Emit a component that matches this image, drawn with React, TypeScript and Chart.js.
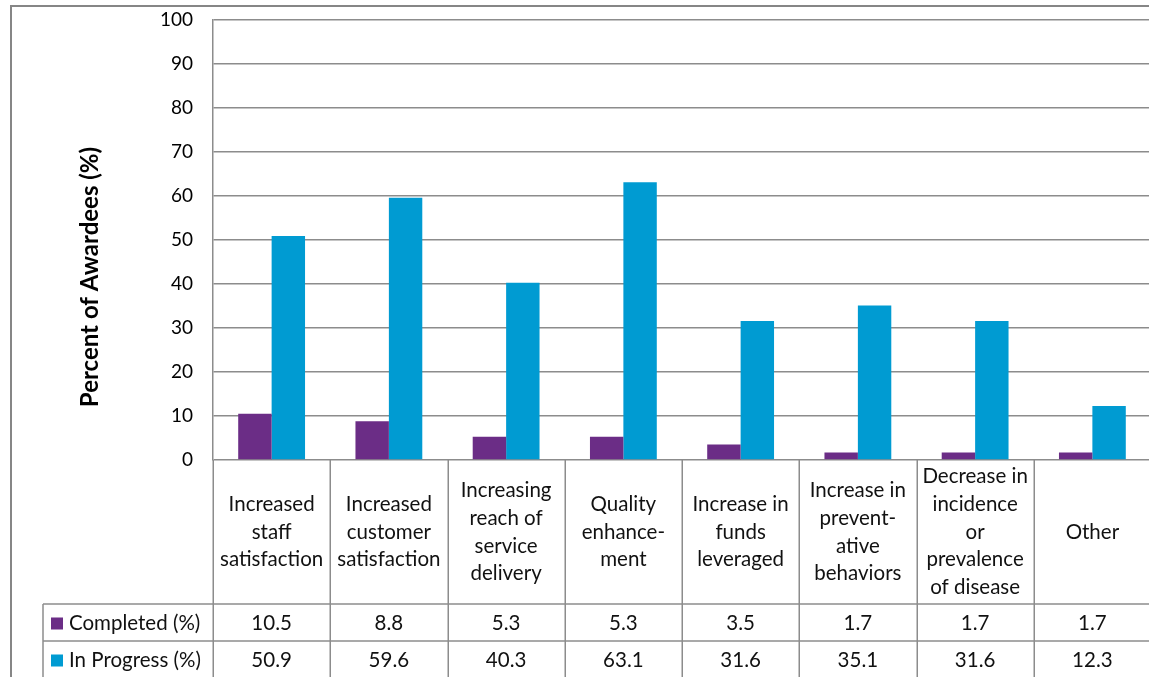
import React, { useEffect, useRef } from "react";
import { Chart, registerables } from "chart.js";

Chart.register(...registerables);

const categoryLines: string[][] = [
  ["Increased", "staff", "satisfaction"],
  ["Increased", "customer", "satisfaction"],
  ["Increasing", "reach of", "service", "delivery"],
  ["Quality", "enhance-", "ment"],
  ["Increase in", "funds", "leveraged"],
  ["Increase in", "prevent-", "ative", "behaviors"],
  ["Decrease in", "incidence", "or", "prevalence", "of disease"],
  ["Other"],
];

const completed: number[] = [10.5, 8.8, 5.3, 5.3, 3.5, 1.7, 1.7, 1.7];
const inProgress: number[] = [50.9, 59.6, 40.3, 63.1, 31.6, 35.1, 31.6, 12.3];

const seriesNames: string[] = ["Completed (%)", "In Progress (%)"];
const seriesColors: string[] = ["#6B2D86", "#009BD2"];

const axisTitle = "Percent of Awardees (%)";
const yMin = 0;
const yMax = 100;
const yStep = 10;

const FONT = "Lato, 'Open Sans', sans-serif";
const LINE = "#8c8c8c";

// Data table drawn under the plot: category header row plus one row per series.
const dataTablePlugin = {
  id: "dataTable",
  afterDraw(chart: any) {
    const { ctx, chartArea, scales } = chart;
    const x = scales.x;
    const left = chartArea.left;
    const right = chartArea.right;
    const bottom = chartArea.bottom;
    const n = categoryLines.length;
    const cellW = (right - left) / n;
    const headerH = 144;
    const rowH = 37;
    const keyColLeft = left - 170;
    const canvasH = chart.height;

    ctx.save();
    ctx.strokeStyle = LINE;
    ctx.lineWidth = 1.5;

    // vertical separators
    for (let i = 0; i <= n; i++) {
      const px = Math.round(left + i * cellW) + 0.25;
      ctx.beginPath();
      ctx.moveTo(px, bottom);
      ctx.lineTo(px, canvasH);
      ctx.stroke();
    }
    ctx.beginPath();
    ctx.moveTo(keyColLeft, bottom + headerH);
    ctx.lineTo(keyColLeft, canvasH);
    ctx.stroke();

    // horizontal separators
    for (let r = 0; r <= seriesNames.length; r++) {
      const py = bottom + headerH + r * rowH;
      ctx.beginPath();
      ctx.moveTo(keyColLeft, py);
      ctx.lineTo(right + 20, py);
      ctx.stroke();
    }

    // category header text
    ctx.fillStyle = "#111";
    ctx.font = `20.5px ${FONT}`;
    ctx.textAlign = "center";
    ctx.textBaseline = "middle";
    const lh = 27.8;
    categoryLines.forEach((lines, i) => {
      const cx = x.getPixelForValue(i);
      const cy = bottom + headerH / 2;
      const start = cy - ((lines.length - 1) * lh) / 2;
      lines.forEach((t, j) => ctx.fillText(t, cx, start + j * lh));
    });

    // series rows
    const rows = [completed, inProgress];
    rows.forEach((vals, r) => {
      const cy = bottom + headerH + r * rowH + rowH / 2 + 1;
      ctx.fillStyle = seriesColors[r];
      ctx.fillRect(keyColLeft + 8, cy - 6, 12, 12);
      ctx.fillStyle = "#111";
      ctx.textAlign = "left";
      ctx.fillText(seriesNames[r], keyColLeft + 26, cy);
      ctx.textAlign = "center";
      vals.forEach((v, i) => {
        ctx.fillText(v.toFixed(1), x.getPixelForValue(i), cy);
      });
    });

    // axis title
    ctx.save();
    ctx.translate(90, chartArea.top + 257);
    ctx.rotate(-Math.PI / 2);
    ctx.font = `bold 24px ${FONT}`;
    ctx.fillStyle = "#000";
    ctx.textAlign = "center";
    ctx.fillText(axisTitle, 0, 0);
    ctx.restore();

    // outer frame
    ctx.strokeStyle = "#868686";
    ctx.lineWidth = 2;
    ctx.strokeRect(11, 6, chart.width, canvasH);
    ctx.restore();
  },
};

export default function App() {
  const canvasRef = useRef<HTMLCanvasElement | null>(null);

  useEffect(() => {
    if (!canvasRef.current) return;
    const chart = new Chart(canvasRef.current, {
      type: "bar",
      data: {
        labels: categoryLines.map((l) => l.join(" ")),
        datasets: [
          {
            label: seriesNames[0],
            data: completed,
            backgroundColor: seriesColors[0],
            barPercentage: 1,
            categoryPercentage: 0.57,
          },
          {
            label: seriesNames[1],
            data: inProgress,
            backgroundColor: seriesColors[1],
            barPercentage: 1,
            categoryPercentage: 0.57,
          },
        ],
      },
      options: {
        animation: false,
        responsive: false,
        layout: { padding: { left: 13, top: 20, right: 9, bottom: 240 } },
        plugins: {
          legend: { display: false },
          tooltip: { enabled: false },
          title: { display: false },
        },
        scales: {
          x: { display: false },
          y: {
            min: yMin,
            max: yMax,
            ticks: {
              stepSize: yStep,
              padding: 20,
              color: "#000",
              font: { family: FONT, size: 19 },
            },
            grid: { color: LINE, lineWidth: 1.5, drawTicks: false },
            border: { display: true, color: LINE, width: 1.5 },
            afterFit(scale: any) {
              scale.width = 200;
              scale.paddingTop = 0;
              scale.paddingBottom = 0;
            },
          },
        },
      },
      plugins: [dataTablePlugin],
    });
    return () => chart.destroy();
  }, []);

  return (
    <div style={{ position: "fixed", left: 0, top: 0, width: 1160, height: 700, background: "#fff" }}>
      <canvas ref={canvasRef} width={1160} height={700} style={{ width: 1160, height: 700, display: "block" }} />
    </div>
  );
}
